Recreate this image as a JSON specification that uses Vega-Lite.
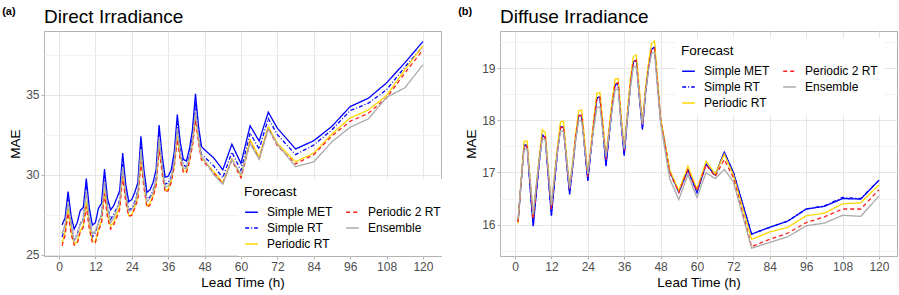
{
  "$schema": "https://vega.github.io/schema/vega-lite/v6.json",
  "background": "white",
  "padding": {"left": 2, "top": 5, "right": 10, "bottom": 4},
  "spacing": 11,
  "config": {
    "font": "Liberation Sans",
    "view": {"stroke": "#b3b3b3", "strokeWidth": 1},
    "axis": {
      "labelFont": "Liberation Sans", "labelFontSize": 12, "labelColor": "#4d4d4d",
      "titleFont": "Liberation Sans", "titleFontSize": 13.5, "titleFontWeight": "normal", "titleColor": "#000000",
      "tickColor": "#b3b3b3", "tickSize": 3, "domain": false, "gridColor": "#e6e6e6", "gridWidth": 1,
      "labelPadding": 2, "titlePadding": 3
    },
    "legend": {
      "titleFont": "Liberation Sans", "titleFontSize": 13.5, "titleFontWeight": "normal", "titleColor": "#000000",
      "labelFont": "Liberation Sans", "labelFontSize": 12, "labelColor": "#000000",
      "symbolType": "stroke", "symbolSize": 160, "symbolStrokeWidth": 1.5,
      "fillColor": "white", "padding": 6, "rowPadding": 2, "columnPadding": 10, "labelOffset": 8, "titlePadding": 6
    },
    "title": {"font": "Liberation Sans", "color": "#000000"}
  },
  "datasets": {
    "direct": [
      {"t":1,"Simple MET":26.85,"Simple RT":26.1,"Periodic RT":25.75,"Periodic 2 RT":25.56,"Ensemble":26.3},
      {"t":2,"Simple MET":27.3,"Simple RT":26.7,"Periodic RT":26.4,"Periodic 2 RT":26.2,"Ensemble":26.9},
      {"t":3,"Simple MET":28.95,"Simple RT":28.55,"Periodic RT":27.9,"Periodic 2 RT":27.6,"Ensemble":28.3},
      {"t":4,"Simple MET":27.4,"Simple RT":26.9,"Periodic RT":26.5,"Periodic 2 RT":26.3,"Ensemble":26.9},
      {"t":5,"Simple MET":26.6,"Simple RT":25.9,"Periodic RT":25.65,"Periodic 2 RT":25.6,"Ensemble":25.85},
      {"t":6,"Simple MET":27.0,"Simple RT":26.3,"Periodic RT":25.8,"Periodic 2 RT":25.7,"Ensemble":26.2},
      {"t":7,"Simple MET":27.75,"Simple RT":26.9,"Periodic RT":26.5,"Periodic 2 RT":26.4,"Ensemble":26.9},
      {"t":8,"Simple MET":27.95,"Simple RT":27.3,"Periodic RT":26.8,"Periodic 2 RT":26.7,"Ensemble":27.2},
      {"t":9,"Simple MET":29.75,"Simple RT":29.3,"Periodic RT":28.3,"Periodic 2 RT":28.0,"Ensemble":29.0},
      {"t":10,"Simple MET":27.9,"Simple RT":27.3,"Periodic RT":26.8,"Periodic 2 RT":26.6,"Ensemble":27.1},
      {"t":11,"Simple MET":26.85,"Simple RT":26.1,"Periodic RT":25.85,"Periodic 2 RT":25.75,"Ensemble":26.3},
      {"t":12,"Simple MET":27.0,"Simple RT":26.4,"Periodic RT":25.8,"Periodic 2 RT":25.75,"Ensemble":26.5},
      {"t":13,"Simple MET":27.9,"Simple RT":27.0,"Periodic RT":26.6,"Periodic 2 RT":26.5,"Ensemble":27.0},
      {"t":14,"Simple MET":28.2,"Simple RT":27.5,"Periodic RT":27.1,"Periodic 2 RT":26.95,"Ensemble":27.4},
      {"t":15,"Simple MET":30.35,"Simple RT":29.9,"Periodic RT":29.0,"Periodic 2 RT":28.8,"Ensemble":29.6},
      {"t":16,"Simple MET":28.5,"Simple RT":28.0,"Periodic RT":27.5,"Periodic 2 RT":27.3,"Ensemble":27.9},
      {"t":17,"Simple MET":27.8,"Simple RT":27.2,"Periodic RT":26.8,"Periodic 2 RT":26.6,"Ensemble":27.0},
      {"t":18,"Simple MET":28.05,"Simple RT":27.5,"Periodic RT":27.0,"Periodic 2 RT":26.85,"Ensemble":27.3},
      {"t":19,"Simple MET":28.5,"Simple RT":27.9,"Periodic RT":27.5,"Periodic 2 RT":27.3,"Ensemble":27.8},
      {"t":20,"Simple MET":29.0,"Simple RT":28.4,"Periodic RT":28.0,"Periodic 2 RT":27.8,"Ensemble":28.3},
      {"t":21,"Simple MET":31.35,"Simple RT":30.8,"Periodic RT":30.1,"Periodic 2 RT":29.9,"Ensemble":30.5},
      {"t":22,"Simple MET":29.4,"Simple RT":28.9,"Periodic RT":28.5,"Periodic 2 RT":28.3,"Ensemble":28.8},
      {"t":23,"Simple MET":28.3,"Simple RT":27.8,"Periodic RT":27.45,"Periodic 2 RT":27.4,"Ensemble":27.7},
      {"t":24,"Simple MET":28.45,"Simple RT":27.9,"Periodic RT":27.5,"Periodic 2 RT":27.45,"Ensemble":27.8},
      {"t":25,"Simple MET":28.9,"Simple RT":28.3,"Periodic RT":28.0,"Periodic 2 RT":27.9,"Ensemble":28.2},
      {"t":26,"Simple MET":29.5,"Simple RT":29.0,"Periodic RT":28.6,"Periodic 2 RT":28.5,"Ensemble":28.9},
      {"t":27,"Simple MET":32.4,"Simple RT":31.9,"Periodic RT":31.0,"Periodic 2 RT":30.8,"Ensemble":31.6},
      {"t":28,"Simple MET":30.3,"Simple RT":29.8,"Periodic RT":29.4,"Periodic 2 RT":29.2,"Ensemble":29.6},
      {"t":29,"Simple MET":28.9,"Simple RT":28.5,"Periodic RT":28.05,"Periodic 2 RT":27.95,"Ensemble":28.3},
      {"t":30,"Simple MET":29.05,"Simple RT":28.6,"Periodic RT":28.2,"Periodic 2 RT":28.1,"Ensemble":28.5},
      {"t":31,"Simple MET":29.5,"Simple RT":29.0,"Periodic RT":28.7,"Periodic 2 RT":28.6,"Ensemble":28.9},
      {"t":32,"Simple MET":30.3,"Simple RT":29.8,"Periodic RT":29.4,"Periodic 2 RT":29.3,"Ensemble":29.7},
      {"t":33,"Simple MET":33.1,"Simple RT":32.6,"Periodic RT":31.8,"Periodic 2 RT":31.6,"Ensemble":32.3},
      {"t":34,"Simple MET":31.2,"Simple RT":30.7,"Periodic RT":30.3,"Periodic 2 RT":30.1,"Ensemble":30.5},
      {"t":35,"Simple MET":29.85,"Simple RT":29.4,"Periodic RT":29.0,"Periodic 2 RT":28.9,"Ensemble":29.2},
      {"t":36,"Simple MET":29.9,"Simple RT":29.5,"Periodic RT":29.1,"Periodic 2 RT":29.0,"Ensemble":29.3},
      {"t":37,"Simple MET":30.3,"Simple RT":29.9,"Periodic RT":29.6,"Periodic 2 RT":29.5,"Ensemble":29.8},
      {"t":38,"Simple MET":31.4,"Simple RT":30.9,"Periodic RT":30.6,"Periodic 2 RT":30.5,"Ensemble":30.8},
      {"t":39,"Simple MET":33.75,"Simple RT":33.2,"Periodic RT":32.4,"Periodic 2 RT":32.2,"Ensemble":32.9},
      {"t":40,"Simple MET":32.0,"Simple RT":31.5,"Periodic RT":31.1,"Periodic 2 RT":30.9,"Ensemble":31.3},
      {"t":41,"Simple MET":30.95,"Simple RT":30.6,"Periodic RT":30.25,"Periodic 2 RT":30.15,"Ensemble":30.4},
      {"t":42,"Simple MET":30.85,"Simple RT":30.5,"Periodic RT":30.2,"Periodic 2 RT":30.1,"Ensemble":30.4},
      {"t":43,"Simple MET":31.6,"Simple RT":31.2,"Periodic RT":30.9,"Periodic 2 RT":30.8,"Ensemble":31.1},
      {"t":44,"Simple MET":32.8,"Simple RT":32.3,"Periodic RT":31.9,"Periodic 2 RT":31.8,"Ensemble":32.1},
      {"t":45,"Simple MET":35.05,"Simple RT":34.5,"Periodic RT":33.6,"Periodic 2 RT":33.4,"Ensemble":34.0},
      {"t":46,"Simple MET":33.0,"Simple RT":32.5,"Periodic RT":32.2,"Periodic 2 RT":32.0,"Ensemble":32.3},
      {"t":47,"Simple MET":31.75,"Simple RT":31.25,"Periodic RT":31.0,"Periodic 2 RT":30.9,"Ensemble":31.1},
      {"t":48,"Simple MET":31.55,"Simple RT":31.1,"Periodic RT":30.85,"Periodic 2 RT":30.75,"Ensemble":30.9},
      {"t":51,"Simple MET":31.05,"Simple RT":30.55,"Periodic RT":30.2,"Periodic 2 RT":30.1,"Ensemble":30.0},
      {"t":54,"Simple MET":30.3,"Simple RT":29.8,"Periodic RT":29.5,"Periodic 2 RT":29.45,"Ensemble":29.4},
      {"t":57,"Simple MET":31.9,"Simple RT":31.4,"Periodic RT":31.0,"Periodic 2 RT":30.9,"Ensemble":30.95},
      {"t":60,"Simple MET":30.7,"Simple RT":30.25,"Periodic RT":29.9,"Periodic 2 RT":29.8,"Ensemble":30.0},
      {"t":63,"Simple MET":33.05,"Simple RT":32.6,"Periodic RT":32.2,"Periodic 2 RT":32.0,"Ensemble":31.95},
      {"t":66,"Simple MET":32.1,"Simple RT":31.6,"Periodic RT":31.1,"Periodic 2 RT":31.0,"Ensemble":30.95},
      {"t":69,"Simple MET":33.9,"Simple RT":33.5,"Periodic RT":33.0,"Periodic 2 RT":32.9,"Ensemble":32.85},
      {"t":72,"Simple MET":32.9,"Simple RT":32.5,"Periodic RT":31.95,"Periodic 2 RT":31.8,"Ensemble":31.9},
      {"t":78,"Simple MET":31.6,"Simple RT":31.25,"Periodic RT":30.8,"Periodic 2 RT":30.67,"Ensemble":30.5},
      {"t":84,"Simple MET":32.12,"Simple RT":31.85,"Periodic RT":31.35,"Periodic 2 RT":31.25,"Ensemble":30.8},
      {"t":90,"Simple MET":33.02,"Simple RT":32.8,"Periodic RT":32.54,"Periodic 2 RT":32.42,"Ensemble":32.06},
      {"t":96,"Simple MET":34.25,"Simple RT":34.0,"Periodic RT":33.54,"Periodic 2 RT":33.33,"Ensemble":32.96},
      {"t":102,"Simple MET":34.77,"Simple RT":34.46,"Periodic RT":34.04,"Periodic 2 RT":33.83,"Ensemble":33.48},
      {"t":108,"Simple MET":35.73,"Simple RT":35.3,"Periodic RT":34.94,"Periodic 2 RT":34.8,"Ensemble":34.83},
      {"t":114,"Simple MET":36.98,"Simple RT":36.71,"Periodic RT":36.54,"Periodic 2 RT":36.33,"Ensemble":35.42},
      {"t":120,"Simple MET":38.31,"Simple RT":38.0,"Periodic RT":38.06,"Periodic 2 RT":37.79,"Ensemble":36.86}
    ],
    "diffuse": [
      {"t":1,"Simple MET":16.05,"Simple RT":16.05,"Periodic RT":16.02,"Periodic 2 RT":16.05,"Ensemble":16.1},
      {"t":2,"Simple MET":16.8,"Simple RT":16.8,"Periodic RT":16.85,"Periodic 2 RT":16.8,"Ensemble":16.8},
      {"t":3,"Simple MET":17.53,"Simple RT":17.53,"Periodic RT":17.6,"Periodic 2 RT":17.5,"Ensemble":17.45},
      {"t":4,"Simple MET":17.52,"Simple RT":17.52,"Periodic RT":17.6,"Periodic 2 RT":17.5,"Ensemble":17.45},
      {"t":5,"Simple MET":16.7,"Simple RT":16.7,"Periodic RT":16.85,"Periodic 2 RT":16.8,"Ensemble":16.85},
      {"t":6,"Simple MET":15.97,"Simple RT":15.98,"Periodic RT":16.15,"Periodic 2 RT":16.1,"Ensemble":16.2},
      {"t":7,"Simple MET":16.6,"Simple RT":16.6,"Periodic RT":16.75,"Periodic 2 RT":16.7,"Ensemble":16.75},
      {"t":8,"Simple MET":17.2,"Simple RT":17.2,"Periodic RT":17.3,"Periodic 2 RT":17.25,"Ensemble":17.25},
      {"t":9,"Simple MET":17.72,"Simple RT":17.72,"Periodic RT":17.82,"Periodic 2 RT":17.7,"Ensemble":17.65},
      {"t":10,"Simple MET":17.66,"Simple RT":17.66,"Periodic RT":17.76,"Periodic 2 RT":17.68,"Ensemble":17.62},
      {"t":11,"Simple MET":16.9,"Simple RT":16.9,"Periodic RT":17.05,"Periodic 2 RT":16.98,"Ensemble":17.0},
      {"t":12,"Simple MET":16.17,"Simple RT":16.18,"Periodic RT":16.35,"Periodic 2 RT":16.3,"Ensemble":16.38},
      {"t":13,"Simple MET":16.8,"Simple RT":16.8,"Periodic RT":16.95,"Periodic 2 RT":16.9,"Ensemble":16.9},
      {"t":14,"Simple MET":17.4,"Simple RT":17.4,"Periodic RT":17.5,"Periodic 2 RT":17.45,"Ensemble":17.4},
      {"t":15,"Simple MET":17.88,"Simple RT":17.88,"Periodic RT":17.97,"Periodic 2 RT":17.85,"Ensemble":17.8},
      {"t":16,"Simple MET":17.86,"Simple RT":17.86,"Periodic RT":17.98,"Periodic 2 RT":17.87,"Ensemble":17.78},
      {"t":17,"Simple MET":17.2,"Simple RT":17.2,"Periodic RT":17.33,"Periodic 2 RT":17.25,"Ensemble":17.25},
      {"t":18,"Simple MET":16.58,"Simple RT":16.6,"Periodic RT":16.73,"Periodic 2 RT":16.68,"Ensemble":16.7},
      {"t":19,"Simple MET":17.1,"Simple RT":17.1,"Periodic RT":17.2,"Periodic 2 RT":17.15,"Ensemble":17.15},
      {"t":20,"Simple MET":17.65,"Simple RT":17.65,"Periodic RT":17.75,"Periodic 2 RT":17.7,"Ensemble":17.6},
      {"t":21,"Simple MET":18.1,"Simple RT":18.1,"Periodic RT":18.18,"Periodic 2 RT":18.08,"Ensemble":18.0},
      {"t":22,"Simple MET":18.08,"Simple RT":18.08,"Periodic RT":18.2,"Periodic 2 RT":18.1,"Ensemble":17.98},
      {"t":23,"Simple MET":17.45,"Simple RT":17.45,"Periodic RT":17.6,"Periodic 2 RT":17.5,"Ensemble":17.45},
      {"t":24,"Simple MET":16.84,"Simple RT":16.85,"Periodic RT":16.97,"Periodic 2 RT":16.92,"Ensemble":16.98},
      {"t":25,"Simple MET":17.4,"Simple RT":17.4,"Periodic RT":17.5,"Periodic 2 RT":17.45,"Ensemble":17.4},
      {"t":26,"Simple MET":17.95,"Simple RT":17.95,"Periodic RT":18.05,"Periodic 2 RT":17.98,"Ensemble":17.85},
      {"t":27,"Simple MET":18.43,"Simple RT":18.43,"Periodic RT":18.52,"Periodic 2 RT":18.42,"Ensemble":18.24},
      {"t":28,"Simple MET":18.45,"Simple RT":18.45,"Periodic RT":18.53,"Periodic 2 RT":18.44,"Ensemble":18.26},
      {"t":29,"Simple MET":17.8,"Simple RT":17.8,"Periodic RT":17.95,"Periodic 2 RT":17.85,"Ensemble":17.75},
      {"t":30,"Simple MET":17.12,"Simple RT":17.14,"Periodic RT":17.32,"Periodic 2 RT":17.25,"Ensemble":17.3},
      {"t":31,"Simple MET":17.7,"Simple RT":17.7,"Periodic RT":17.85,"Periodic 2 RT":17.78,"Ensemble":17.72},
      {"t":32,"Simple MET":18.25,"Simple RT":18.25,"Periodic RT":18.38,"Periodic 2 RT":18.3,"Ensemble":18.2},
      {"t":33,"Simple MET":18.68,"Simple RT":18.68,"Periodic RT":18.79,"Periodic 2 RT":18.7,"Ensemble":18.58},
      {"t":34,"Simple MET":18.7,"Simple RT":18.7,"Periodic RT":18.8,"Periodic 2 RT":18.72,"Ensemble":18.6},
      {"t":35,"Simple MET":17.95,"Simple RT":17.95,"Periodic RT":18.1,"Periodic 2 RT":18.02,"Ensemble":17.95},
      {"t":36,"Simple MET":17.32,"Simple RT":17.34,"Periodic RT":17.47,"Periodic 2 RT":17.42,"Ensemble":17.45},
      {"t":37,"Simple MET":18.0,"Simple RT":18.0,"Periodic RT":18.12,"Periodic 2 RT":18.05,"Ensemble":18.0},
      {"t":38,"Simple MET":18.65,"Simple RT":18.65,"Periodic RT":18.78,"Periodic 2 RT":18.7,"Ensemble":18.6},
      {"t":39,"Simple MET":19.12,"Simple RT":19.12,"Periodic RT":19.22,"Periodic 2 RT":19.12,"Ensemble":19.02},
      {"t":40,"Simple MET":19.15,"Simple RT":19.15,"Periodic RT":19.25,"Periodic 2 RT":19.15,"Ensemble":19.03},
      {"t":41,"Simple MET":18.45,"Simple RT":18.45,"Periodic RT":18.6,"Periodic 2 RT":18.52,"Ensemble":18.45},
      {"t":42,"Simple MET":17.82,"Simple RT":17.84,"Periodic RT":17.96,"Periodic 2 RT":17.9,"Ensemble":17.92},
      {"t":43,"Simple MET":18.5,"Simple RT":18.5,"Periodic RT":18.62,"Periodic 2 RT":18.55,"Ensemble":18.5},
      {"t":44,"Simple MET":19.0,"Simple RT":19.0,"Periodic RT":19.1,"Periodic 2 RT":19.02,"Ensemble":18.95},
      {"t":45,"Simple MET":19.36,"Simple RT":19.36,"Periodic RT":19.47,"Periodic 2 RT":19.35,"Ensemble":19.28},
      {"t":46,"Simple MET":19.4,"Simple RT":19.4,"Periodic RT":19.52,"Periodic 2 RT":19.38,"Ensemble":19.3},
      {"t":47,"Simple MET":18.7,"Simple RT":18.7,"Periodic RT":18.78,"Periodic 2 RT":18.7,"Ensemble":18.6},
      {"t":48,"Simple MET":18.02,"Simple RT":18.02,"Periodic RT":18.05,"Periodic 2 RT":18.0,"Ensemble":17.95},
      {"t":51,"Simple MET":17.03,"Simple RT":17.03,"Periodic RT":17.05,"Periodic 2 RT":17.0,"Ensemble":16.88},
      {"t":54,"Simple MET":16.62,"Simple RT":16.62,"Periodic RT":16.65,"Periodic 2 RT":16.62,"Ensemble":16.48},
      {"t":57,"Simple MET":17.05,"Simple RT":17.05,"Periodic RT":17.12,"Periodic 2 RT":17.05,"Ensemble":16.96},
      {"t":60,"Simple MET":16.62,"Simple RT":16.62,"Periodic RT":16.68,"Periodic 2 RT":16.65,"Ensemble":16.52},
      {"t":63,"Simple MET":17.16,"Simple RT":17.16,"Periodic RT":17.22,"Periodic 2 RT":17.15,"Ensemble":17.0},
      {"t":66,"Simple MET":16.95,"Simple RT":16.95,"Periodic RT":16.97,"Periodic 2 RT":16.92,"Ensemble":16.88},
      {"t":69,"Simple MET":17.39,"Simple RT":17.39,"Periodic RT":17.35,"Periodic 2 RT":17.25,"Ensemble":17.06},
      {"t":72,"Simple MET":17.0,"Simple RT":17.0,"Periodic RT":16.95,"Periodic 2 RT":16.9,"Ensemble":16.82},
      {"t":78,"Simple MET":15.82,"Simple RT":15.82,"Periodic RT":15.72,"Periodic 2 RT":15.58,"Ensemble":15.55},
      {"t":84,"Simple MET":15.95,"Simple RT":15.95,"Periodic RT":15.86,"Periodic 2 RT":15.72,"Ensemble":15.66},
      {"t":90,"Simple MET":16.07,"Simple RT":16.07,"Periodic RT":15.95,"Periodic 2 RT":15.84,"Ensemble":15.77},
      {"t":96,"Simple MET":16.3,"Simple RT":16.3,"Periodic RT":16.17,"Periodic 2 RT":16.04,"Ensemble":15.98},
      {"t":102,"Simple MET":16.35,"Simple RT":16.36,"Periodic RT":16.22,"Periodic 2 RT":16.15,"Ensemble":16.03},
      {"t":108,"Simple MET":16.5,"Simple RT":16.52,"Periodic RT":16.4,"Periodic 2 RT":16.3,"Ensemble":16.18},
      {"t":114,"Simple MET":16.49,"Simple RT":16.5,"Periodic RT":16.42,"Periodic 2 RT":16.3,"Ensemble":16.16},
      {"t":120,"Simple MET":16.85,"Simple RT":16.85,"Periodic RT":16.76,"Periodic 2 RT":16.67,"Ensemble":16.55}
    ]
  },
  "hconcat": [
    {
      "title": {"text": "(a)", "anchor": "start", "frame": "bounds", "fontSize": 11, "fontWeight": "bold", "offset": -9, "dx": -6},
      "vconcat": [
        {
          "width": 397, "height": 225,
          "title": {"text": "Direct Irradiance", "anchor": "start", "frame": "group", "fontSize": 19, "fontWeight": "normal", "offset": 4},
          "data": {"name": "direct"},
          "transform": [{"fold": ["Simple MET", "Simple RT", "Periodic RT", "Periodic 2 RT", "Ensemble"], "as": ["Forecast", "MAE"]}],
          "mark": {"type": "line", "strokeWidth": 1.3},
          "encoding": {
            "x": {"field": "t", "type": "quantitative", "scale": {"domain": [-4.95, 125.95], "nice": false, "zero": false},
                  "axis": {"values": [0, 12, 24, 36, 48, 60, 72, 84, 96, 108, 120], "title": "Lead Time (h)"}},
            "y": {"field": "MAE", "type": "quantitative", "scale": {"domain": [24.92, 38.97], "nice": false, "zero": false},
                  "axis": {"title": "MAE", "values": [25, 27.5, 30, 32.5, 35, 37.5],
                           "labelExpr": "datum.value % 5 === 0 ? format(datum.value, 'd') : ''",
                           "gridColor": {"condition": {"test": "datum.value % 5 === 0", "value": "#e6e6e6"}, "value": "#f2f2f2"},
                           "tickOpacity": {"condition": {"test": "datum.value % 5 === 0", "value": 1}, "value": 0}}},
            "color": {"field": "Forecast", "type": "nominal",
                      "scale": {"domain": ["Simple MET", "Simple RT", "Periodic RT", "Periodic 2 RT", "Ensemble"], "range": ["#0000ff", "#0000ff", "#ffd700", "#ff2020", "#aaaaaa"]},
                      "legend": {"title": "Forecast", "orient": "none", "legendX": 194, "legendY": 148, "columns": 2,
                                 "encode": {"symbols": {"update": {"strokeDash": {"signal": "datum.value === 'Simple RT' ? [4,2,1,2] : (datum.value === 'Periodic 2 RT' ? [4,3] : [1,0])"}}}}}},
            "strokeDash": {"field": "Forecast", "type": "nominal",
                      "scale": {"domain": ["Simple MET", "Simple RT", "Periodic RT", "Periodic 2 RT", "Ensemble"], "range": [[1, 0], [4, 2, 1, 2], [1, 0], [4, 3], [1, 0]]},
                      "legend": null}
          }
        }
      ]
    },
    {
      "title": {"text": "(b)", "anchor": "start", "frame": "bounds", "fontSize": 11, "fontWeight": "bold", "offset": -9, "dx": -6},
      "vconcat": [
        {
          "width": 397, "height": 225,
          "title": {"text": "Diffuse Irradiance", "anchor": "start", "frame": "group", "fontSize": 19, "fontWeight": "normal", "offset": 4},
          "data": {"name": "diffuse"},
          "transform": [{"fold": ["Simple MET", "Simple RT", "Periodic RT", "Periodic 2 RT", "Ensemble"], "as": ["Forecast", "MAE"]}],
          "mark": {"type": "line", "strokeWidth": 1.3},
          "encoding": {
            "x": {"field": "t", "type": "quantitative", "scale": {"domain": [-4.95, 125.95], "nice": false, "zero": false},
                  "axis": {"values": [0, 12, 24, 36, 48, 60, 72, 84, 96, 108, 120], "title": "Lead Time (h)"}},
            "y": {"field": "MAE", "type": "quantitative", "scale": {"domain": [15.4, 19.71], "nice": false, "zero": false},
                  "axis": {"title": "MAE", "values": [15.5, 16, 16.5, 17, 17.5, 18, 18.5, 19, 19.5],
                           "labelExpr": "datum.value % 1 === 0 ? format(datum.value, 'd') : ''",
                           "gridColor": {"condition": {"test": "datum.value % 1 === 0", "value": "#e6e6e6"}, "value": "#f2f2f2"},
                           "tickOpacity": {"condition": {"test": "datum.value % 1 === 0", "value": 1}, "value": 0}}},
            "color": {"field": "Forecast", "type": "nominal",
                      "scale": {"domain": ["Simple MET", "Simple RT", "Periodic RT", "Periodic 2 RT", "Ensemble"], "range": ["#0000ff", "#0000ff", "#ffd700", "#ff2020", "#aaaaaa"]},
                      "legend": {"title": "Forecast", "orient": "none", "legendX": 175, "legendY": 7, "columns": 2,
                                 "encode": {"symbols": {"update": {"strokeDash": {"signal": "datum.value === 'Simple RT' ? [4,2,1,2] : (datum.value === 'Periodic 2 RT' ? [4,3] : [1,0])"}}}}}},
            "strokeDash": {"field": "Forecast", "type": "nominal",
                      "scale": {"domain": ["Simple MET", "Simple RT", "Periodic RT", "Periodic 2 RT", "Ensemble"], "range": [[1, 0], [4, 2, 1, 2], [1, 0], [4, 3], [1, 0]]},
                      "legend": null}
          }
        }
      ]
    }
  ],
  "resolve": {"scale": {"color": "shared", "strokeDash": "shared"}, "legend": {"color": "independent", "strokeDash": "independent"}}
}
